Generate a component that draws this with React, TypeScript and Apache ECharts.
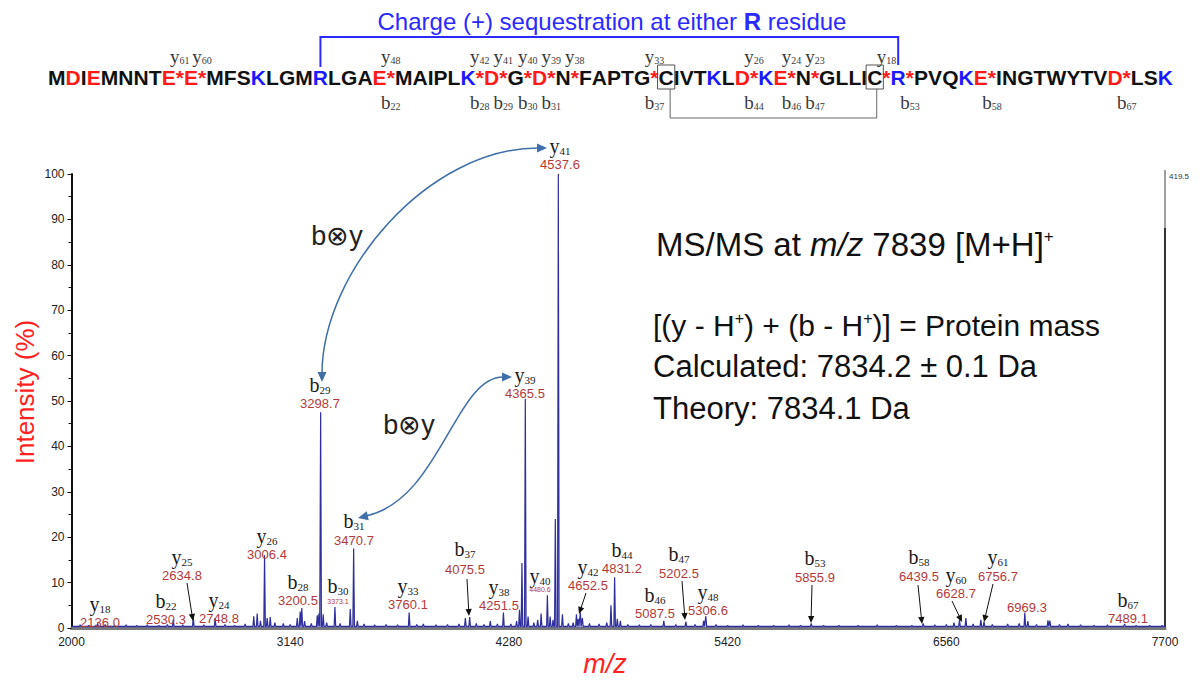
import React, { useEffect, useRef } from 'react';
import * as echarts from 'echarts';

// ---------------- data ----------------
const sequence = 'MDIEMNNTE*E*MFSKLGMRLGAE*MAIPLK*D*G*D*N*FAPTG*CIVTKLD*KE*N*GLLIC*R*PVQKE*INGTWYTVD*LSK';
const disulfideResidues = [38, 52];
const chargeSites = [18, 53];
const sequenceYIons = [61, 60, 48, 42, 41, 40, 39, 38, 33, 26, 24, 23, 18];
const sequenceBIons = [22, 28, 29, 30, 31, 37, 44, 46, 47, 53, 58, 67];
const proteinLength = 70;

const spectrumMz = [
  2045, 2090, 2136.0, 2175, 2225, 2285, 2340, 2395, 2455, 2500,
  2530.3, 2580, 2634.8, 2690, 2748.8, 2800, 2850, 2905, 2950, 2968,
  2985, 3006.4, 3020, 3036, 3060, 3104, 3140, 3177, 3192, 3200.5,
  3215, 3250, 3281, 3290, 3298.7, 3312, 3330, 3373.1, 3400, 3453,
  3470.7, 3490, 3525, 3580, 3640, 3700, 3760.1, 3800, 3834, 3900,
  3960, 4020, 4053, 4075.5, 4110, 4150, 4183, 4220, 4251.5, 4290,
  4320, 4335, 4348, 4365.5, 4380, 4410, 4430, 4448, 4480.6, 4495,
  4510, 4522, 4537.6, 4559, 4590, 4615, 4632, 4641, 4652.5, 4663,
  4700, 4750, 4790, 4812, 4831.2, 4845, 4861, 4900, 4960, 5020,
  5087.5, 5150, 5202.5, 5250, 5295, 5306.6, 5360, 5420, 5500, 5580,
  5660, 5740, 5800, 5855.9, 5920, 6000, 6100, 6200, 6300, 6380,
  6439.5, 6500, 6560, 6600, 6628.7, 6662, 6700, 6740, 6756.7, 6800,
  6880, 6940, 6969.3, 6985, 7030, 7090, 7100, 7150, 7194, 7260,
  7330, 7400, 7489.1, 7550, 7620, 7685,
];
const spectrumIntensity = [
  0.7, 0.6, 1.0, 0.8, 0.6, 0.7, 0.6, 0.7, 0.6, 0.8,
  1.8, 0.7, 2.4, 0.7, 2.2, 0.8, 0.6, 0.9, 2.6, 3.2,
  1.6, 16.0, 2.2, 2.4, 1.2, 1.0, 0.8, 2.2, 3.6, 4.4,
  1.5, 1.0, 2.8, 3.2, 47.5, 3.0, 1.2, 4.6, 1.0, 4.2,
  17.5, 1.6, 0.9, 0.7, 0.8, 0.7, 3.4, 0.8, 0.9, 0.7,
  0.8, 0.9, 2.2, 2.4, 1.0, 0.8, 1.5, 0.9, 3.4, 0.9,
  1.5, 4.0, 14.3, 50.5, 2.5, 1.2, 1.8, 3.2, 7.2, 2.5,
  1.8, 24.0, 100, 3.0, 1.0, 1.2, 3.0, 2.0, 3.4, 2.2,
  1.0, 0.9, 1.2, 5.0, 11.2, 2.0, 1.6, 0.8, 0.7, 0.8,
  1.6, 0.8, 1.4, 0.8, 1.6, 2.6, 0.8, 0.6, 0.7, 0.6,
  0.6, 0.7, 0.6, 1.0, 0.6, 0.6, 0.6, 0.7, 0.6, 0.6,
  1.0, 0.7, 0.8, 1.2, 1.8, 2.2, 0.9, 1.8, 1.4, 0.8,
  0.9, 1.0, 3.4, 1.5, 0.8, 1.7, 1.6, 0.8, 0.9, 0.7,
  0.6, 0.7, 0.9, 0.6, 0.6, 0.6,
];
const baselineIntensity = 0.35;

const xTickValues = [2000, 3140, 4280, 5420, 6560, 7700];
const xMin = 2000;
const xMax = 7700;
const yMin = 0;
const yMax = 100;
const yInterval = 10;
const rightAxisLabel = '419.5';

const peakIonTypes = ['y', 'b', 'y', 'y', 'y', 'b', 'b', 'b', 'b', 'y', 'b', 'y', 'y', 'y', 'y', 'y', 'b', 'b', 'b', 'y', 'b', 'b', 'y', 'y', '', 'b'];
const peakIonNumbers = ['18', '22', '25', '24', '26', '28', '29', '30', '31', '33', '37', '38', '39', '40', '41', '42', '44', '46', '47', '48', '53', '58', '60', '61', '', '67'];
const peakMzLabels = ['2136.0', '2530.3', '2634.8', '2748.8', '3006.4', '3200.5', '3298.7', '3373.1', '3470.7', '3760.1', '4075.5', '4251.5', '4365.5', '4480.6', '4537.6', '4652.5', '4831.2', '5087.5', '5202.5', '5306.6', '5855.9', '6439.5', '6628.7', '6756.7', '6969.3', '7489.1'];

const titleText = 'Charge (+) sequestration at either ';
const titleBold = 'R';
const titleTail = ' residue';
const crossLinkLabel = 'b\u2297y';

// ---------------- layout (pixels) ----------------
// [x, ionY, mzY, tiny]
const peakLabelLayout: [number, number, number, number][] = [
  [100, 604, 622, 0], [166, 601, 619, 0], [182, 557, 575, 0], [219, 600, 618, 0],
  [267, 536, 554, 0], [298, 582, 600, 0], [320, 385, 403, 0], [338, 586, 601, 1],
  [354, 521, 540, 0], [408, 586, 604, 0], [465, 549, 569, 0], [499, 587, 605, 0],
  [525, 375, 393, 0], [540, 576, 589, 1], [560, 146, 164, 0], [588, 567, 585, 0],
  [622, 550, 568, 0], [655, 595, 613, 0], [679, 554, 573, 0], [708, 592, 610, 0],
  [815, 558, 577, 0], [919, 557, 576, 0], [956, 575, 593, 0], [998, 557, 576, 0],
  [1027, 0, 607, 0], [1128, 600, 618, 0],
];
const pointerArrows: [number, number, number, number][] = [
  [187, 583, 193, 621], [467, 579, 469, 616], [586, 593, 579, 614], [682, 581, 685, 620],
  [812, 585, 811, 623], [918, 585, 922, 624], [952, 601, 962, 622], [993, 584, 984, 622],
];

const SANS = 'Arial, "Liberation Sans", Helvetica, sans-serif';
const SERIF = '"Times New Roman", "Liberation Serif", Times, serif';
const MZ_RED = '#b23a3a';
const AXIS_RED = '#ff2222';
const SEQ_RED = '#ff1a1a';
const SEQ_BLUE = '#1a1aff';
const CURVE_BLUE = '#3f6fa8';

function txt(x: number, y: number, text: string, font: string, fill: string, align = 'center') {
  return {
    type: 'text',
    z: 100,
    style: {
      x, y, text, font, fill,
      align, textAlign: align,
      verticalAlign: 'middle', textVerticalAlign: 'middle',
    },
  };
}

function ionText(t: string, n: string, x: number, y: number, size: number, sub: number, color: string) {
  return {
    type: 'text',
    z: 100,
    style: {
      x, y,
      align: 'center', textAlign: 'center',
      verticalAlign: 'middle', textVerticalAlign: 'middle',
      text: `{l|${t}}{s|${n}}`,
      rich: {
        l: { fontSize: size, fontFamily: SERIF, fill: color, verticalAlign: 'middle' },
        s: { fontSize: sub, fontFamily: SERIF, fill: color, verticalAlign: 'bottom' },
      },
    },
  };
}

function arrowHead(x: number, y: number, ang: number, size: number, color: string) {
  const half = size * 0.45;
  const bx = x - size * Math.cos(ang);
  const by = y - size * Math.sin(ang);
  return {
    type: 'polygon',
    z: 100,
    shape: {
      points: [
        [x, y],
        [bx + half * Math.sin(ang), by - half * Math.cos(ang)],
        [bx - half * Math.sin(ang), by + half * Math.cos(ang)],
      ],
    },
    style: { fill: color, stroke: 'none' },
  };
}

function buildGraphics() {
  const els: any[] = [];

  // ----- sequence -----
  const seqSize = 21;
  const canvas = document.createElement('canvas');
  const ctx = canvas.getContext('2d')!;
  ctx.font = `bold ${seqSize}px ${SANS}`;
  const chars = sequence.split('');
  const widths = chars.map((c) => ctx.measureText(c).width);
  const total = widths.reduce((a, b) => a + b, 0);
  const SEQ_L = 48;
  const SEQ_R = 1173;
  const sc = (SEQ_R - SEQ_L) / total;
  let cum = 0;
  const pos = chars.map((c, i) => {
    const x0 = SEQ_L + cum * sc;
    cum += widths[i];
    return { c, x0, x1: SEQ_L + cum * sc };
  });
  const residueCharIdx: number[] = [0];
  chars.forEach((c, i) => { if (c !== '*') residueCharIdx.push(i); });
  const seqY = 77;
  pos.forEach((p) => {
    let fill = '#111';
    if (p.c === '*' || p.c === 'D' || p.c === 'E') fill = SEQ_RED;
    if (p.c === 'K' || p.c === 'R') fill = SEQ_BLUE;
    els.push({
      type: 'text', z: 100,
      style: {
        x: (p.x0 + p.x1) / 2, y: seqY, text: p.c,
        font: `bold ${seqSize}px ${SANS}`, fill,
        align: 'center', textAlign: 'center', verticalAlign: 'middle', textVerticalAlign: 'middle',
      },
    });
  });
  const centerOfResidue = (k: number) => {
    const p = pos[residueCharIdx[k]];
    return (p.x0 + p.x1) / 2;
  };
  const cleavageX = (k: number) => {
    const idx = residueCharIdx[k];
    const nxt = pos[idx + 1];
    if (nxt && nxt.c === '*') return (nxt.x0 + nxt.x1) / 2;
    return pos[idx].x1;
  };

  // boxes around cysteines
  disulfideResidues.forEach((k) => {
    const p = pos[residueCharIdx[k]];
    els.push({
      type: 'rect', z: 100,
      shape: { x: p.x0 - 1, y: 65, width: p.x1 - p.x0 + 2, height: 24 },
      style: { fill: 'none', stroke: '#555', lineWidth: 1 },
    });
  });
  const c1 = centerOfResidue(disulfideResidues[0]) + 4;
  const c2 = centerOfResidue(disulfideResidues[1]) + 2;
  els.push({
    type: 'polyline', z: 100,
    shape: { points: [[c1, 89], [c1, 118], [c2, 118], [c2, 89]] },
    style: { stroke: '#666', lineWidth: 1, fill: 'none' },
  });

  // charge bracket
  const r1 = centerOfResidue(chargeSites[0]);
  const r2 = centerOfResidue(chargeSites[1]);
  els.push({
    type: 'polyline', z: 100,
    shape: { points: [[r1, 67], [r1, 37], [r2, 37], [r2, 65]] },
    style: { stroke: '#2a2aff', lineWidth: 2, fill: 'none' },
  });
  els.push({
    type: 'text', z: 100,
    style: {
      x: 612, y: 21,
      align: 'center', textAlign: 'center', verticalAlign: 'middle', textVerticalAlign: 'middle',
      text: `{n|${titleText}}{b|${titleBold}}{n|${titleTail}}`,
      rich: {
        n: { fontSize: 24, fontFamily: SANS, fill: '#2a2aff' },
        b: { fontSize: 24, fontFamily: SANS, fontWeight: 'bold', fill: '#2a2aff' },
      },
    },
  });

  // sequence ion annotations
  sequenceYIons.forEach((n) => {
    els.push(ionText('y', String(n), cleavageX(proteinLength - n), 56, 19, 10, '#3a3a3a'));
  });
  sequenceBIons.forEach((n) => {
    els.push(ionText('b', String(n), cleavageX(n), 102, 19, 10, '#3a3a3a'));
  });

  // ----- peak labels -----
  peakIonTypes.forEach((t, i) => {
    const [x, iy, my, tiny] = peakLabelLayout[i];
    if (t) els.push(ionText(t, peakIonNumbers[i], x, iy, 20, 11, '#1a1a1a'));
    els.push(txt(x, my, peakMzLabels[i], `${tiny ? 7 : 13}px ${SANS}`, MZ_RED));
  });

  pointerArrows.forEach(([x1, y1, x2, y2]) => {
    const ang = Math.atan2(y2 - y1, x2 - x1);
    els.push({
      type: 'line', z: 100,
      shape: { x1, y1, x2: x2 - 5 * Math.cos(ang), y2: y2 - 5 * Math.sin(ang) },
      style: { stroke: '#111', lineWidth: 1 },
    });
    els.push(arrowHead(x2, y2, ang, 7, '#111'));
  });

  // ----- curved b⊗y arrows -----
  els.push({
    type: 'bezierCurve', z: 100,
    shape: { x1: 322, y1: 374, cpx1: 322, cpy1: 272, cpx2: 428, cpy2: 148, x2: 538, y2: 148 },
    style: { stroke: CURVE_BLUE, lineWidth: 1.5, fill: 'none' },
  });
  els.push(arrowHead(547, 148, 0, 10, CURVE_BLUE));
  els.push(arrowHead(322, 382, Math.PI / 2, 10, CURVE_BLUE));

  els.push({
    type: 'bezierCurve', z: 100,
    shape: { x1: 503, y1: 377, cpx1: 455, cpy1: 377, cpx2: 440, cpy2: 500, x2: 366, y2: 516 },
    style: { stroke: CURVE_BLUE, lineWidth: 1.5, fill: 'none' },
  });
  els.push(arrowHead(512, 377, 0, 10, CURVE_BLUE));
  els.push(arrowHead(358, 518, Math.atan2(18, -78), 10, CURVE_BLUE));

  els.push(txt(337, 236, crossLinkLabel, `27px ${SANS}`, '#222'));
  els.push(txt(409, 425, crossLinkLabel, `27px ${SANS}`, '#222'));

  // ----- big annotation text -----
  els.push({
    type: 'text', z: 100,
    style: {
      x: 656, y: 244,
      align: 'left', textAlign: 'left', verticalAlign: 'middle', textVerticalAlign: 'middle',
      text: '{n|MS/MS at }{i|m/z}{n| 7839 [M+H]}{s|+}',
      rich: {
        n: { fontSize: 33, fontFamily: SANS, fill: '#111', verticalAlign: 'middle' },
        i: { fontSize: 33, fontFamily: SANS, fontStyle: 'italic', fill: '#111', verticalAlign: 'middle' },
        s: { fontSize: 17, fontFamily: SANS, fill: '#111', verticalAlign: 'top' },
      },
    },
  });
  els.push({
    type: 'text', z: 100,
    style: {
      x: 653, y: 325,
      align: 'left', textAlign: 'left', verticalAlign: 'middle', textVerticalAlign: 'middle',
      text: '{n|[(y - H}{s|+}{n|) + (b - H}{s|+}{n|)] = Protein mass}',
      rich: {
        n: { fontSize: 30, fontFamily: SANS, fill: '#111', verticalAlign: 'middle' },
        s: { fontSize: 16, fontFamily: SANS, fill: '#111', verticalAlign: 'top' },
      },
    },
  });
  els.push(txt(653, 366, 'Calculated: 7834.2 \u00b1 0.1 Da', `31px ${SANS}`, '#111', 'left'));
  els.push(txt(653, 408, 'Theory: 7834.1 Da', `31px ${SANS}`, '#111', 'left'));

  // ----- axis titles & extras -----
  els.push({
    type: 'text', z: 100,
    x: 25, y: 392, rotation: Math.PI / 2,
    style: {
      x: 0, y: 0, text: 'Intensity (%)', font: `26px ${SANS}`, fill: AXIS_RED,
      align: 'center', textAlign: 'center', verticalAlign: 'middle', textVerticalAlign: 'middle',
    },
  });
  els.push(txt(605, 664, 'm/z', `italic 27px ${SANS}`, AXIS_RED));
  els.push(txt(1169, 176, rightAxisLabel, `8px ${SANS}`, '#333', 'left'));
  els.push({
    type: 'line', z: 100,
    shape: { x1: 1165, y1: 170, x2: 1165, y2: 228 },
    style: { stroke: '#a0a0a0', lineWidth: 2 },
  });
  return els;
}

function buildLineData() {
  const half = 4;
  const data: [number, number][] = [[xMin, baselineIntensity]];
  spectrumMz.forEach((mz, i) => {
    data.push([mz - half, baselineIntensity]);
    data.push([mz, spectrumIntensity[i]]);
    data.push([mz + half, baselineIntensity]);
  });
  data.push([xMax, baselineIntensity]);
  return data;
}

export default function App() {
  const ref = useRef<HTMLDivElement>(null);
  useEffect(() => {
    if (!ref.current) return;
    const chart = echarts.init(ref.current, undefined, { renderer: 'svg' });
    const option: any = {
      animation: false,
      backgroundColor: '#ffffff',
      grid: { left: 71.5, right: 35, top: 174, bottom: 55, containLabel: false, outerBoundsMode: 'none' },
      xAxis: {
        type: 'value',
        min: xMin,
        max: xMax,
        axisLine: { show: true, onZero: true, lineStyle: { color: '#7a7a7a', width: 3 } },
        axisTick: { show: false, customValues: xTickValues },
        axisLabel: {
          customValues: xTickValues,
          formatter: (v: number) => String(v),
          fontSize: 12,
          color: '#222',
          margin: 8,
          fontFamily: SANS,
        },
        splitLine: { show: false },
      },
      yAxis: [
        {
          type: 'value',
          min: yMin,
          max: yMax,
          interval: yInterval,
          axisLine: { show: true, lineStyle: { color: '#111', width: 2 } },
          axisTick: { show: true, length: 4, lineStyle: { color: '#111' } },
          minorTick: { show: true, splitNumber: 2, length: 3, lineStyle: { color: '#111' } },
          axisLabel: { fontSize: 12, color: '#222', margin: 7, fontFamily: SANS },
          splitLine: { show: false },
        },
        {
          type: 'value',
          min: yMin,
          max: yMax,
          position: 'right',
          axisLine: { show: true, lineStyle: { color: '#333', width: 2 } },
          axisTick: { show: false },
          axisLabel: { show: false },
          splitLine: { show: false },
        },
      ],
      series: [
        {
          type: 'line',
          data: buildLineData(),
          symbol: 'none',
          lineStyle: { color: '#2e2e9c', width: 1.2 },
          areaStyle: { color: 'rgba(70,70,180,0.45)' },
          z: 3,
        },
      ],
      graphic: { elements: buildGraphics() },
    };
    chart.setOption(option);
    return () => chart.dispose();
  }, []);
  return (
    <div
      ref={ref}
      style={{ position: 'absolute', left: 0, top: 0, width: 1200, height: 683, background: '#fff' }}
    />
  );
}
